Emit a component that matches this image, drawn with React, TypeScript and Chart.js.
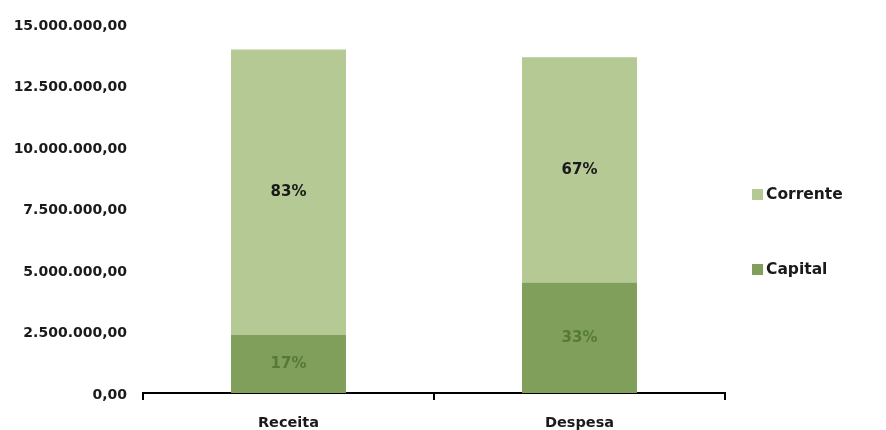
import React, { useEffect, useRef } from "react";
import { Chart, registerables } from "chart.js";

Chart.register(...registerables);

const categories = ["Receita", "Despesa"];
const capitalValues = [2360000, 4500000];
const correnteValues = [11620000, 9160000];
const capitalPct = ["17%", "33%"];
const correntePct = ["83%", "67%"];
const yMax = 15000000;
const yStep = 2500000;

const FONT = "'DejaVu Sans', sans-serif";
const CAPITAL_COLOR = "#7f9f5b";
const CORRENTE_COLOR = "#b4c993";

function fmt(v: number): string {
  const int = Math.round(v).toString().replace(/\B(?=(\d{3})+(?!\d))/g, ".");
  return int + ",00";
}

const overlayPlugin = {
  id: "overlay",
  afterDatasetsDraw(chart: any) {
    const ctx = chart.ctx;
    ctx.save();
    ctx.textAlign = "center";
    ctx.textBaseline = "middle";
    const labelSets = [
      { idx: 0, texts: capitalPct, color: "#557a38" },
      { idx: 1, texts: correntePct, color: "#1a1a1a" },
    ];
    labelSets.forEach((s) => {
      const meta = chart.getDatasetMeta(s.idx);
      meta.data.forEach((bar: any, i: number) => {
        const y = (bar.y + bar.base) / 2;
        ctx.font = `bold 15px ${FONT}`;
        ctx.fillStyle = s.color;
        ctx.fillText(s.texts[i], bar.x, y);
      });
    });
    // legend
    const items = [
      { label: "Corrente", color: CORRENTE_COLOR, y: 195 },
      { label: "Capital", color: CAPITAL_COLOR, y: 270 },
    ];
    ctx.textAlign = "left";
    items.forEach((it) => {
      ctx.fillStyle = it.color;
      ctx.fillRect(752, it.y - 6, 11, 11);
      ctx.fillStyle = "#1a1a1a";
      ctx.font = `bold 15.5px ${FONT}`;
      ctx.fillText(it.label, 766, it.y);
    });
    ctx.restore();
  },
};

export default function App() {
  const ref = useRef<HTMLCanvasElement | null>(null);
  useEffect(() => {
    if (!ref.current) return;
    const chart = new Chart(ref.current, {
      type: "bar",
      data: {
        labels: categories,
        datasets: [
          {
            label: "Capital",
            data: capitalValues,
            backgroundColor: CAPITAL_COLOR,
            categoryPercentage: 1,
            barPercentage: 0.395,
          },
          {
            label: "Corrente",
            data: correnteValues,
            backgroundColor: CORRENTE_COLOR,
            categoryPercentage: 1,
            barPercentage: 0.395,
          },
        ],
      },
      options: {
        animation: false,
        responsive: true,
        maintainAspectRatio: false,
        layout: { padding: { left: 0, right: 161, top: 16, bottom: 0 } },
        plugins: {
          legend: { display: false },
          tooltip: { enabled: false },
        },
        scales: {
          x: {
            stacked: true,
            border: { display: true, color: "#000", width: 2 },
            grid: {
              display: true,
              drawOnChartArea: false,
              drawTicks: true,
              tickLength: 7,
              color: "#000",
              lineWidth: 2,
              offset: true,
            },
            ticks: {
              color: "#1a1a1a",
              font: { family: FONT, size: 14.5, weight: "bold" },
              padding: 15,
            },
            afterFit: (s: any) => {
              s.height = 37;
            },
          },
          y: {
            stacked: true,
            min: 0,
            max: yMax,
            border: { display: false },
            grid: { display: false, drawTicks: false },
            ticks: {
              stepSize: yStep,
              color: "#1a1a1a",
              font: { family: FONT, size: 14, weight: "bold" },
              padding: 16,
              labelOffset: 2,
              callback: (v: any) => fmt(Number(v)),
            },
            afterFit: (s: any) => {
              s.width = 143;
            },
          },
        },
      },
      plugins: [overlayPlugin],
    });
    return () => chart.destroy();
  }, []);
  return (
    <div style={{ position: "absolute", left: 0, top: 0, width: 886, height: 430, background: "#fff" }}>
      <canvas ref={ref} />
    </div>
  );
}
